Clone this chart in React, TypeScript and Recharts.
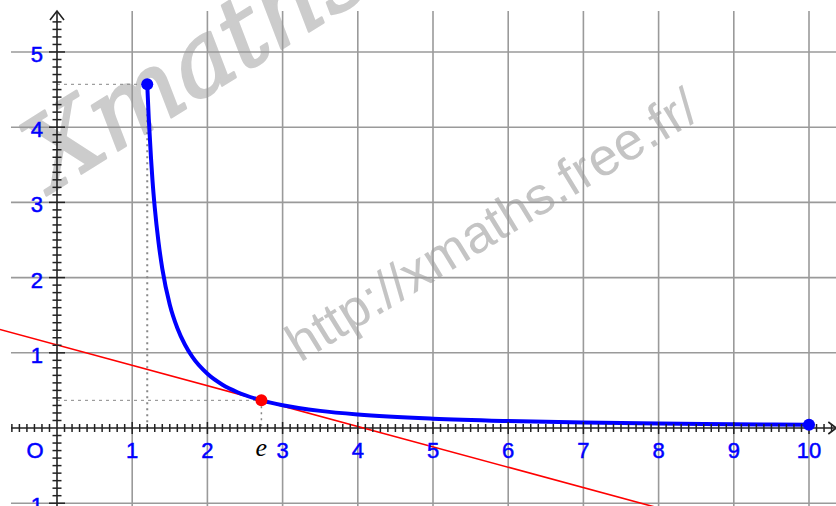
import React from "react";
import { ComposedChart, XAxis, YAxis, Line, Scatter, ReferenceLine } from "recharts";

const curveX = [1.2, 1.22, 1.25, 1.27, 1.3, 1.35, 1.4, 1.5, 1.6, 1.7, 1.8, 2.0, 2.2, 2.4, 2.718, 3, 3.5, 4, 5, 6, 7, 8, 9, 10];
const curveY = [4.57, 4.12, 3.59, 3.29, 2.93, 2.47, 2.12, 1.64, 1.33, 1.11, 0.945, 0.721, 0.576, 0.476, 0.368, 0.303, 0.228, 0.18, 0.124, 0.093, 0.073, 0.06, 0.051, 0.043];
const tangentX = [-0.76, 7.95];
const tangentY = [1.31, -1.05];
const endPointsX = [1.2, 10];
const endPointsY = [4.57, 0.043];
const tangentPointX = [2.718];
const tangentPointY = [0.368];
const xTickLabels = ["1", "2", "3", "4", "5", "6", "7", "8", "9", "10"];
const xTickValues = [1, 2, 3, 4, 5, 6, 7, 8, 9, 10];
const yTickLabels = ["-1", "1", "2", "3", "4", "5"];
const yTickValues = [-1, 1, 2, 3, 4, 5];
const gridX = [1, 2, 3, 4, 5, 6, 7, 8, 9, 10];
const gridY = [-1, 1, 2, 3, 4, 5];

const X_MIN = -0.758;
const X_MAX = 10.359;
const Y_MIN = -1.037;
const Y_MAX = 5.691;
const GRID_LEFT = -0.612;
const GRID_TOP = 5.545;
const AXIS_RIGHT = 10.35;

const zip = (xs: number[], ys: number[]) => xs.map((x, i) => ({ x, y: ys[i] }));
const curveData = zip(curveX, curveY);
const tangentData = zip(tangentX, tangentY);
const endPoints = zip(endPointsX, endPointsY);
const tangentPoint = zip(tangentPointX, tangentPointY);
const eLabelData = tangentPointX.map((x) => ({ x, y: 0 }));

const minorX: { x: number; y: number; major: boolean }[] = [];
for (let i = -6; i <= 103; i++) {
  if (i === 0) continue;
  minorX.push({ x: i / 10, y: 0, major: i % 10 === 0 });
}
const minorY: { x: number; y: number; major: boolean }[] = [];
for (let i = -10; i <= 54; i++) {
  if (i === 0) continue;
  minorY.push({ x: 0, y: i / 10, major: i % 10 === 0 });
}

const xLabelData = xTickValues.map((v, i) => ({ x: v, y: 0, label: xTickLabels[i] }));
const yLabelData = yTickValues.map((v, i) => ({ x: 0, y: v, label: yTickLabels[i] }));

const FONT = "'Liberation Sans', Arial, sans-serif";

const XTick = (p: any) => {
  const h = p.payload.major ? 6 : 4;
  return <line x1={p.cx} x2={p.cx} y1={p.cy - h} y2={p.cy + h} stroke="#222" strokeWidth={1.5} />;
};
const YTick = (p: any) => {
  const h = p.payload.major ? 8 : 4.5;
  return <line x1={p.cx - h} x2={p.cx + h} y1={p.cy} y2={p.cy} stroke="#222" strokeWidth={1.5} />;
};
const XLabel = (p: any) => (
  <text x={p.cx} y={p.cy + 30} textAnchor="middle" fill="#0000ff" stroke="#0000ff" strokeWidth={0.5} fontSize={22} fontFamily={FONT}>
    {p.payload.label}
  </text>
);
const YLabel = (p: any) => (
  <text x={p.cx - 14} y={p.cy + 10} textAnchor="end" fill="#0000ff" stroke="#0000ff" strokeWidth={0.5} fontSize={22} fontFamily={FONT}>
    {p.payload.label}
  </text>
);
const Dot = (color: string) => (p: any) => <circle cx={p.cx} cy={p.cy} r={6} fill={color} />;
const OriginLabel = (p: any) => (
  <text x={p.cx - 22} y={p.cy + 30} textAnchor="middle" fill="#0000ff" stroke="#0000ff" strokeWidth={0.5} fontSize={22} fontFamily={FONT}>
    O
  </text>
);
const ELabel = (p: any) => (
  <text x={p.cx} y={p.cy + 28} textAnchor="middle" fill="#000" fontSize={26} fontStyle="italic" fontFamily="'Liberation Serif', 'Times New Roman', serif">
    e
  </text>
);
const UpArrow = (p: any) => (
  <polyline points={`${p.cx - 7},${p.cy + 9} ${p.cx},${p.cy} ${p.cx + 7},${p.cy + 9}`} fill="none" stroke="#222" strokeWidth={1.6} />
);
const RightArrow = (p: any) => (
  <polyline points={`${p.cx - 7},${p.cy - 6} ${p.cx + 1},${p.cy} ${p.cx - 7},${p.cy + 6}`} fill="none" stroke="#222" strokeWidth={1.6} />
);

export default function App() {
  return (
    <div style={{ position: "absolute", left: 0, top: 0, width: 836, height: 506, background: "#fff", overflow: "hidden" }}>
      <svg width={836} height={506} style={{ position: "absolute", left: 0, top: 0 }}>
        <text
          x={300}
          y={363}
          transform="rotate(-31.4 300 363)"
          fill="#c4c4c4"
          fontSize={53}
          fontFamily={FONT}
        >
          http://xmaths.free.fr/
        </text>
        <text
          x={52}
          y={192}
          transform="rotate(-32 52 192)"
          fill="#cccccc"
          stroke="#cccccc"
          strokeWidth={2.5}
          strokeLinejoin="round"
          fontSize={100}
          fontStyle="italic"
          fontFamily="'DejaVu Serif', serif"
        >
          Xmaths
        </text>
      </svg>
      <div style={{ position: "absolute", left: 0, top: 0 }}>
        <ComposedChart width={836} height={506} margin={{ top: 0, right: 0, bottom: 0, left: 0 }}>
          <XAxis type="number" dataKey="x" domain={[X_MIN, X_MAX]} allowDataOverflow hide />
          <YAxis type="number" dataKey="y" domain={[Y_MIN, Y_MAX]} allowDataOverflow hide />
          {gridX.map((g) => (
            <ReferenceLine key={"gx" + g} segment={[{ x: g, y: Y_MIN }, { x: g, y: GRID_TOP }]} stroke="#9a9a9a" strokeWidth={1.6} ifOverflow="visible" />
          ))}
          {gridY.map((g) => (
            <ReferenceLine key={"gy" + g} segment={[{ x: GRID_LEFT, y: g }, { x: X_MAX, y: g }]} stroke="#9a9a9a" strokeWidth={1.6} ifOverflow="visible" />
          ))}
          <ReferenceLine segment={[{ x: 0, y: 4.57 }, { x: 1.2, y: 4.57 }]} stroke="#888" strokeWidth={1} strokeDasharray="3 4" />
          <ReferenceLine segment={[{ x: 1.2, y: 4.57 }, { x: 1.2, y: 0 }]} stroke="#888" strokeWidth={2} strokeDasharray="2 4" />
          <ReferenceLine segment={[{ x: 0, y: 0.368 }, { x: 2.718, y: 0.368 }]} stroke="#888" strokeWidth={1} strokeDasharray="3 4" />
          <ReferenceLine segment={[{ x: 2.718, y: 0.368 }, { x: 2.718, y: 0 }]} stroke="#888" strokeWidth={1.5} strokeDasharray="2 4" />
          <ReferenceLine segment={[{ x: GRID_LEFT, y: 0 }, { x: AXIS_RIGHT, y: 0 }]} stroke="#222" strokeWidth={1.6} ifOverflow="visible" />
          <ReferenceLine segment={[{ x: 0, y: Y_MIN }, { x: 0, y: GRID_TOP }]} stroke="#222" strokeWidth={1.6} ifOverflow="visible" />
          <Scatter data={minorX} shape={XTick} isAnimationActive={false} />
          <Scatter data={minorY} shape={YTick} isAnimationActive={false} />
          <Scatter data={[{ x: 0, y: GRID_TOP }]} shape={UpArrow} isAnimationActive={false} />
          <Scatter data={[{ x: AXIS_RIGHT, y: 0 }]} shape={RightArrow} isAnimationActive={false} />
          <Scatter data={xLabelData} shape={XLabel} isAnimationActive={false} />
          <Scatter data={yLabelData} shape={YLabel} isAnimationActive={false} />
          <Scatter data={[{ x: 0, y: 0 }]} shape={OriginLabel} isAnimationActive={false} />
          <Scatter data={eLabelData} shape={ELabel} isAnimationActive={false} />
          <Line data={tangentData} dataKey="y" type="linear" stroke="#ff0000" strokeWidth={1.6} dot={false} isAnimationActive={false} />
          <Line data={curveData} dataKey="y" type="monotone" stroke="#0000ff" strokeWidth={4} dot={false} isAnimationActive={false} />
          <Scatter data={endPoints} shape={Dot("#0000ff")} isAnimationActive={false} />
          <Scatter data={tangentPoint} shape={Dot("#ff0000")} isAnimationActive={false} />
        </ComposedChart>
      </div>
    </div>
  );
}
